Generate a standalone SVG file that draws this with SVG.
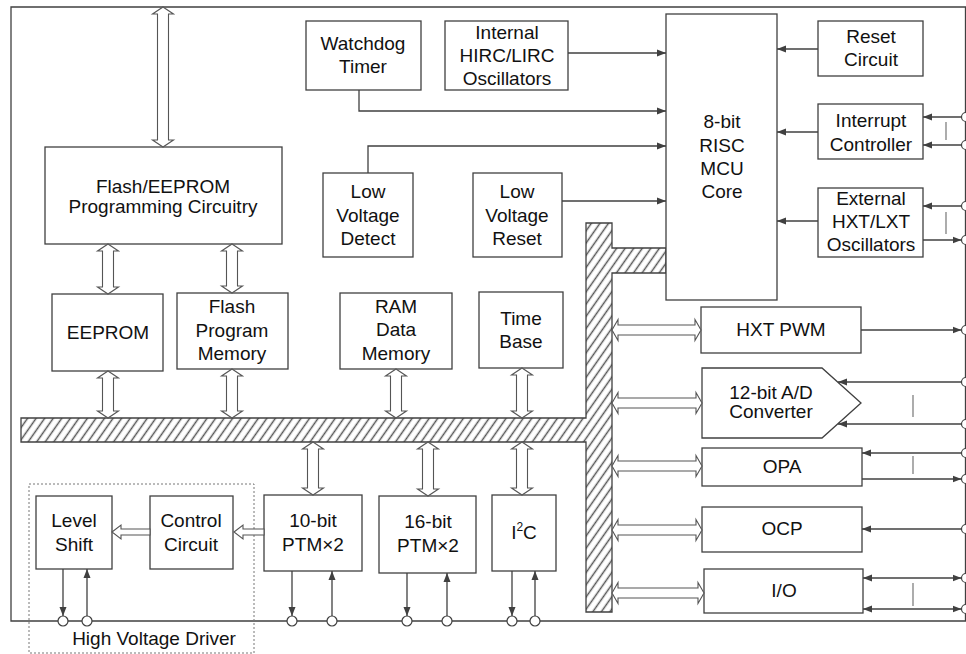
<svg xmlns="http://www.w3.org/2000/svg" width="966" height="654" viewBox="0 0 966 654">
<style>
.box{fill:#fff;stroke:#404040;stroke-width:1.3}
.t{font-family:"Liberation Sans",Arial,sans-serif;font-size:19px;fill:#111;text-anchor:middle}
.ln{fill:none;stroke:#404040;stroke-width:1.3}
.ar{fill:none;stroke:#404040;stroke-width:1.3;marker-end:url(#ah)}
.ar2{fill:none;stroke:#404040;stroke-width:1.3;marker-end:url(#ah);marker-start:url(#ahs)}
.bar{stroke:#808080;stroke-width:1.3}
.pin{fill:#fff;stroke:#404040;stroke-width:1.2}
.hol{fill:#fff;stroke:#555;stroke-width:1.1}
</style>
<defs>
<marker id="ah" markerUnits="userSpaceOnUse" markerWidth="9" markerHeight="8" refX="9" refY="4" orient="auto"><path d="M0,0.5 L9,4 L0,7.5 z" fill="#404040"/></marker>
<marker id="ahs" markerUnits="userSpaceOnUse" markerWidth="9" markerHeight="8" refX="0" refY="4" orient="auto"><path d="M9,0.5 L0,4 L9,7.5 z" fill="#404040"/></marker>
<pattern id="hatch" patternUnits="userSpaceOnUse" width="7" height="7" patternTransform="rotate(35)"><rect width="7" height="7" fill="#fff"/><line x1="3.5" y1="0" x2="3.5" y2="7" stroke="#555" stroke-width="1.5"/></pattern>
</defs>
<rect x="0" y="0" width="966" height="654" fill="#fff"/>
<g id="frame">
<path class="ln" d="M11,621 L11,7 L965.5,7 L965.5,621 Z"/>
</g>
<g id="bus">
<path d="M21,418 L586,418 L586,223 L612,223 L612,248 L666,248 L666,273 L612,273 L612,612 L586,612 L586,442 L21,442 Z" fill="url(#hatch)" stroke="#404040" stroke-width="1.3"/>
</g>
<g id="hvd">
<rect x="29" y="484" width="225" height="169" fill="none" stroke="#777" stroke-width="1" stroke-dasharray="2,2"/>
<text class="t" x="154" y="645">High Voltage Driver</text>
</g>
<g id="flashprog"><rect class="box" x="45" y="147" width="237" height="97"/><text class="t" x="163" y="193">Flash/EEPROM</text><text class="t" x="163" y="213">Programming Circuitry</text></g>
<g id="wdt"><rect class="box" x="306" y="21" width="115" height="69"/><text class="t" x="363" y="50">Watchdog</text><text class="t" x="363" y="73">Timer</text></g>
<g id="hirc"><rect class="box" x="445" y="21" width="123" height="69"/><text class="t" x="507" y="39">Internal</text><text class="t" x="507" y="62">HIRC/LIRC</text><text class="t" x="507" y="85">Oscillators</text></g>
<g id="lvd"><rect class="box" x="323" y="173" width="90" height="84"/><text class="t" x="368" y="198">Low</text><text class="t" x="368" y="222">Voltage</text><text class="t" x="368" y="245">Detect</text></g>
<g id="lvr"><rect class="box" x="473" y="173" width="89" height="84"/><text class="t" x="517" y="198">Low</text><text class="t" x="517" y="222">Voltage</text><text class="t" x="517" y="245">Reset</text></g>
<g id="mcu"><rect class="box" x="666" y="14" width="111" height="286"/><text class="t" x="722" y="128">8-bit</text><text class="t" x="722" y="152">RISC</text><text class="t" x="722" y="175">MCU</text><text class="t" x="722" y="198">Core</text></g>
<g id="reset"><rect class="box" x="818" y="21" width="105" height="55"/><text class="t" x="871" y="43">Reset</text><text class="t" x="871" y="66">Circuit</text></g>
<g id="intc"><rect class="box" x="818" y="104" width="105" height="55"/><text class="t" x="871" y="127">Interrupt</text><text class="t" x="871" y="151">Controller</text></g>
<g id="hxt"><rect class="box" x="818" y="188" width="105" height="69"/><text class="t" x="871" y="205">External</text><text class="t" x="871" y="228">HXT/LXT</text><text class="t" x="871" y="251">Oscillators</text></g>
<g id="eeprom"><rect class="box" x="52" y="294" width="111" height="77"/><text class="t" x="108" y="339">EEPROM</text></g>
<g id="flashmem"><rect class="box" x="177" y="293" width="111" height="76"/><text class="t" x="232" y="313">Flash</text><text class="t" x="232" y="337">Program</text><text class="t" x="232" y="360">Memory</text></g>
<g id="ram"><rect class="box" x="340" y="293" width="112" height="76"/><text class="t" x="396" y="313">RAM</text><text class="t" x="396" y="336">Data</text><text class="t" x="396" y="360">Memory</text></g>
<g id="timebase"><rect class="box" x="479" y="292" width="84" height="76"/><text class="t" x="521" y="325">Time</text><text class="t" x="521" y="348">Base</text></g>
<g id="hxtpwm"><rect class="box" x="701" y="307" width="160" height="46"/><text class="t" x="781" y="336">HXT PWM</text></g>
<g id="adc"><path class="box" d="M702,368 L822,368 L861,403 L822,438 L702,438 Z"/><text class="t" x="771" y="399">12-bit A/D</text><text class="t" x="771" y="418">Converter</text></g>
<g id="opa"><rect class="box" x="702" y="448" width="160" height="38"/><text class="t" x="782" y="473">OPA</text></g>
<g id="ocp"><rect class="box" x="702" y="507" width="160" height="45"/><text class="t" x="782" y="535">OCP</text></g>
<g id="io"><rect class="box" x="704" y="569" width="159" height="44"/><text class="t" x="784" y="597">I/O</text></g>
<g id="level"><rect class="box" x="36" y="496" width="76" height="73"/><text class="t" x="74" y="527">Level</text><text class="t" x="74" y="551">Shift</text></g>
<g id="control"><rect class="box" x="150" y="496" width="83" height="73"/><text class="t" x="191" y="527">Control</text><text class="t" x="191" y="551">Circuit</text></g>
<g id="ptm10"><rect class="box" x="264" y="495" width="98" height="76"/><text class="t" x="313" y="527">10-bit</text><text class="t" x="313" y="551">PTM×2</text></g>
<g id="ptm16"><rect class="box" x="379" y="496" width="97" height="77"/><text class="t" x="428" y="528">16-bit</text><text class="t" x="428" y="552">PTM×2</text></g>
<g id="i2c"><rect class="box" x="492" y="495" width="64" height="76"/><text class="t" x="524" y="539">I<tspan font-size="12" dy="-8">2</tspan><tspan dy="8">C</tspan></text></g>
<g id="connectors">
<path class="hol" d="M163,7 L173.5,14 L168.5,14 L168.5,140 L173.5,140 L163,147 L152.5,140 L157.5,140 L157.5,14 L152.5,14 Z"/>
<path class="hol" d="M108,244 L118.5,251 L113.5,251 L113.5,287 L118.5,287 L108,294 L97.5,287 L102.5,287 L102.5,251 L97.5,251 Z"/>
<path class="hol" d="M232,244 L242.5,251 L237.5,251 L237.5,286 L242.5,286 L232,293 L221.5,286 L226.5,286 L226.5,251 L221.5,251 Z"/>
<path class="hol" d="M108,371 L118.5,378 L113.5,378 L113.5,411 L118.5,411 L108,418 L97.5,411 L102.5,411 L102.5,378 L97.5,378 Z"/>
<path class="hol" d="M232,369 L242.5,376 L237.5,376 L237.5,411 L242.5,411 L232,418 L221.5,411 L226.5,411 L226.5,376 L221.5,376 Z"/>
<path class="hol" d="M396,369 L406.5,376 L401.5,376 L401.5,411 L406.5,411 L396,418 L385.5,411 L390.5,411 L390.5,376 L385.5,376 Z"/>
<path class="hol" d="M522,368 L532.5,375 L527.5,375 L527.5,411 L532.5,411 L522,418 L511.5,411 L516.5,411 L516.5,375 L511.5,375 Z"/>
<path class="hol" d="M313,442 L323.5,449 L318.5,449 L318.5,488 L323.5,488 L313,495 L302.5,488 L307.5,488 L307.5,449 L302.5,449 Z"/>
<path class="hol" d="M428,442 L438.5,449 L433.5,449 L433.5,489 L438.5,489 L428,496 L417.5,489 L422.5,489 L422.5,449 L417.5,449 Z"/>
<path class="hol" d="M522,442 L532.5,449 L527.5,449 L527.5,488 L532.5,488 L522,495 L511.5,488 L516.5,488 L516.5,449 L511.5,449 Z"/>
<path class="hol" d="M612,330 L618,319.5 L618,325 L695,325 L695,319.5 L701,330 L695,340.5 L695,335 L618,335 L618,340.5 Z"/>
<path class="hol" d="M612,403 L618,392.5 L618,398 L696,398 L696,392.5 L702,403 L696,413.5 L696,408 L618,408 L618,413.5 Z"/>
<path class="hol" d="M612,466 L618,455.5 L618,461 L696,461 L696,455.5 L702,466 L696,476.5 L696,471 L618,471 L618,476.5 Z"/>
<path class="hol" d="M612,530 L618,519.5 L618,525 L696,525 L696,519.5 L702,530 L696,540.5 L696,535 L618,535 L618,540.5 Z"/>
<path class="hol" d="M612,593 L618,582.5 L618,588 L698,588 L698,582.5 L704,593 L698,603.5 L698,598 L618,598 L618,603.5 Z"/>
<path class="hol" d="M234,532 L243,525 L243,529 L264,529 L264,535 L243,535 L243,539 Z"/>
<path class="hol" d="M112,532 L121,525 L121,529 L150,529 L150,535 L121,535 L121,539 Z"/>
<path class="ar" d="M568,53 L666,53"/>
<path class="ar" d="M359,90 L359,111 L666,111"/>
<path class="ar" d="M368,173 L368,146 L666,146"/>
<path class="ar" d="M562,201 L666,201"/>
<path class="ar" d="M818,49 L777,49"/>
<path class="ar" d="M818,132 L777,132"/>
<path class="ar" d="M818,221 L777,221"/>
<path class="ar" d="M961.5,117 L923,117"/>
<path class="ar" d="M961.5,145 L923,145"/>
<line class="bar" x1="946" y1="122" x2="946" y2="140"/>
<path class="ar" d="M961.5,206 L923,206"/>
<path class="ar" d="M923,240 L961.5,240"/>
<line class="bar" x1="946" y1="212" x2="946" y2="234"/>
<path class="ar" d="M861,330 L961.5,330"/>
<path class="ar" d="M961.5,382 L838,382"/>
<path class="ar" d="M961.5,424 L838,424"/>
<line class="bar" x1="913" y1="395" x2="913" y2="417"/>
<path class="ar" d="M961.5,453 L862,453"/>
<path class="ar" d="M862,479 L961.5,479"/>
<line class="bar" x1="913" y1="456" x2="913" y2="474"/>
<path class="ar" d="M961.5,529 L862,529"/>
<path class="ar2" d="M863,578 L961.5,578"/>
<path class="ar2" d="M863,609 L961.5,609"/>
<line class="bar" x1="913" y1="583" x2="913" y2="606"/>
<path class="ar" d="M63,569 L63,616"/>
<path class="ar" d="M87,616 L87,569"/>
<path class="ar" d="M292,571 L292,616"/>
<path class="ar" d="M332,616 L332,571"/>
<path class="ar" d="M407,573 L407,616"/>
<path class="ar" d="M447,616 L447,573"/>
<path class="ar" d="M512,571 L512,616"/>
<path class="ar" d="M535,616 L535,571"/>
</g>
<g id="pins">
<circle class="pin" cx="63" cy="621" r="5"/><circle class="pin" cx="87" cy="621" r="5"/>
<circle class="pin" cx="292" cy="621" r="5"/><circle class="pin" cx="332" cy="621" r="5"/>
<circle class="pin" cx="407" cy="621" r="5"/><circle class="pin" cx="447" cy="621" r="5"/>
<circle class="pin" cx="512" cy="621" r="5"/><circle class="pin" cx="535" cy="621" r="5"/>
<circle class="pin" cx="966" cy="117" r="4.5"/><circle class="pin" cx="966" cy="145" r="4.5"/>
<circle class="pin" cx="966" cy="206" r="4.5"/><circle class="pin" cx="966" cy="240" r="4.5"/>
<circle class="pin" cx="966" cy="330" r="4.5"/>
<circle class="pin" cx="966" cy="382" r="4.5"/><circle class="pin" cx="966" cy="424" r="4.5"/>
<circle class="pin" cx="966" cy="453" r="4.5"/><circle class="pin" cx="966" cy="479" r="4.5"/>
<circle class="pin" cx="966" cy="529" r="4.5"/>
<circle class="pin" cx="966" cy="578" r="4.5"/><circle class="pin" cx="966" cy="609" r="4.5"/>
</g>
</svg>
